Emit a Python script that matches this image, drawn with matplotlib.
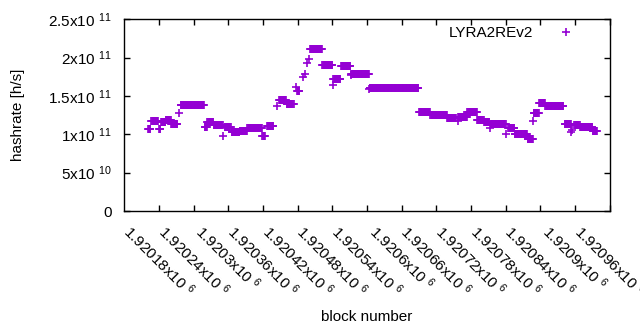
import numpy as np
import matplotlib
matplotlib.use("Agg")
import matplotlib.pyplot as plt

# hashrate per block, read off the picture as runs of equal value
# (first block, last block, hashrate in h/s)
seg_start = [1920161, 1920167, 1920180, 1920184, 1920192, 1920201, 1920214,
             1920218, 1920259, 1920264, 1920275, 1920291, 1920294, 1920306,
             1920320, 1920333, 1920359, 1920367, 1920384, 1920388, 1920401,
             1920417, 1920419, 1920430, 1920433, 1920436, 1920440, 1920442,
             1920463, 1920481, 1920482, 1920495, 1920512, 1920513, 1920544,
             1920545, 1920630, 1920650, 1920679, 1920697, 1920698, 1920714,
             1920731, 1920743, 1920753, 1920754, 1920781, 1920785, 1920796,
             1920818, 1920828, 1920829, 1920838, 1920849, 1920882, 1920894,
             1920895, 1920899, 1920909, 1920931]
seg_end = [1920165, 1920178, 1920182, 1920191, 1920200, 1920212, 1920214,
           1920258, 1920263, 1920274, 1920290, 1920291, 1920304, 1920319,
           1920332, 1920358, 1920363, 1920378, 1920384, 1920400, 1920413,
           1920417, 1920423, 1920430, 1920433, 1920436, 1920440, 1920462,
           1920480, 1920481, 1920494, 1920511, 1920512, 1920543, 1920544,
           1920629, 1920649, 1920678, 1920694, 1920697, 1920713, 1920730,
           1920742, 1920752, 1920753, 1920780, 1920781, 1920795, 1920817,
           1920827, 1920828, 1920837, 1920848, 1920880, 1920893, 1920894,
           1920895, 1920908, 1920930, 1920938]
seg_rate = [1.064e11, 1.168e11, 1.064e11, 1.155e11, 1.185e11, 1.14e11, 1.28e11,
            1.376e11, 1.09e11, 1.163e11, 1.12e11, 0.98e11, 1.09e11, 1.025e11,
            1.04e11, 1.085e11, 0.98e11, 1.11e11, 1.367e11, 1.445e11, 1.39e11,
            1.62e11, 1.56e11, 1.75e11, 1.79e11, 1.935e11, 1.98e11, 2.118e11,
            1.91e11, 1.64e11, 1.715e11, 1.897e11, 1.78e11, 1.793e11, 1.585e11,
            1.61e11, 1.285e11, 1.246e11, 1.21e11, 1.176e11, 1.228e11, 1.289e11,
            1.185e11, 1.155e11, 1.077e11, 1.129e11, 1.01e11, 1.085e11, 1.01e11,
            0.934e11, 1.176e11, 1.272e11, 1.402e11, 1.367e11, 1.129e11, 1.025e11,
            1.055e11, 1.12e11, 1.094e11, 1.042e11]

x_ticks = [1920180, 1920240, 1920300, 1920360, 1920420, 1920480, 1920540,
           1920600, 1920660, 1920720, 1920780, 1920840, 1920900, 1920960]
x_labels = ["1.92018x10 $^{6}$", "1.92024x10 $^{6}$", "1.9203x10 $^{6}$",
            "1.92036x10 $^{6}$", "1.92042x10 $^{6}$", "1.92048x10 $^{6}$",
            "1.92054x10 $^{6}$", "1.9206x10 $^{6}$", "1.92066x10 $^{6}$",
            "1.92072x10 $^{6}$", "1.92078x10 $^{6}$", "1.92084x10 $^{6}$",
            "1.9209x10 $^{6}$", "1.92096x10 $^{6}$"]
y_ticks = [0, 5e10, 1e11, 1.5e11, 2e11, 2.5e11]
y_labels = ["0", "5x10 $^{10}$", "1x10 $^{11}$", "1.5x10 $^{11}$",
            "2x10 $^{11}$", "2.5x10 $^{11}$"]

plt.rcParams['font.family'] = ['Liberation Sans', 'DejaVu Sans']
plt.rcParams['mathtext.fontset'] = 'custom'
plt.rcParams['mathtext.rm'] = 'Liberation Sans'
plt.rcParams['mathtext.default'] = 'regular'

blocks = np.concatenate([np.arange(s, e + 1) for s, e in zip(seg_start, seg_end)])
rates = np.concatenate([np.full(e - s + 1, r) for s, e, r in zip(seg_start, seg_end, seg_rate)])

fig = plt.figure(figsize=(6.4, 3.3), dpi=100)
ax = fig.add_axes([0.1942, 0.3606, 0.7583, 0.5809])

ax.plot(blocks, rates, linestyle='none', marker='+', markersize=5.5,
        markeredgewidth=1.2, color='#9400d3', label='LYRA2REv2')

ax.set_xlim(1920120, 1920960)
ax.set_ylim(0, 2.5e11)
ax.set_xticks(x_ticks)
ax.set_xticklabels(x_labels, rotation=-45, ha='center', va='top', fontsize=11)
ax.set_yticks(y_ticks)
ax.set_yticklabels(y_labels, fontsize=11)
ax.tick_params(direction='in', length=4, width=1, top=True, right=True)
ax.tick_params(axis='y', pad=9)
ax.tick_params(axis='x', pad=8)
for sp in ax.spines.values():
    sp.set_linewidth(1)

ax.set_xlabel("block number", fontsize=11)
ax.xaxis.set_label_coords(0.5, -0.514)
ax.set_ylabel("hashrate [h/s]", fontsize=11)
ax.yaxis.set_label_coords(-0.205, 0.5)

ax.legend(loc='upper right', bbox_to_anchor=(0.963, 1.036), markerfirst=False,
          frameon=False, fontsize=11, handlelength=1.5, handletextpad=1.4)

fig.savefig("out.png", dpi=100)
